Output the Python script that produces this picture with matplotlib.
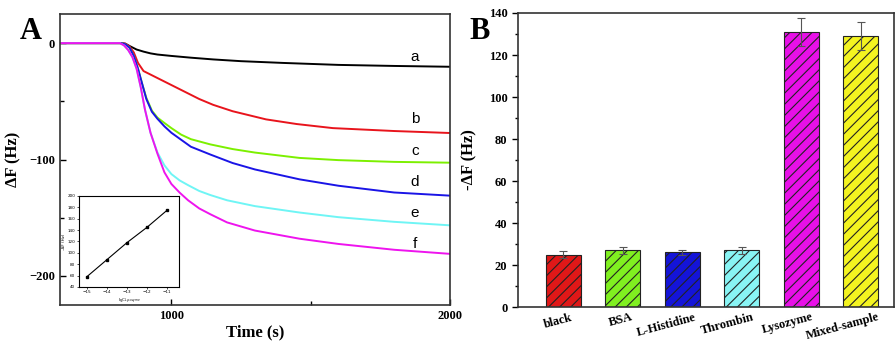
import numpy as np
import matplotlib.pyplot as plt
import matplotlib.transforms as mtransforms
from matplotlib.ticker import MultipleLocator

# ---- panel A: frequency shift curves ----
t_a = [600, 820, 835, 850, 875, 900, 925, 950, 1000, 1070, 1150, 1250, 1400, 1600, 1800, 2000]
df_a = [0, 0, -0.5, -2.5, -5.5, -7.3, -8.8, -9.8, -11, -12.5, -14, -15.5, -17, -18.7, -19.6, -20.3]

t_b = [600, 820, 835, 850, 865, 880, 900, 950, 1000, 1050, 1100, 1150, 1220, 1340, 1450, 1580, 1800, 2000]
df_b = [0, 0, -0.5, -3, -8, -17, -24, -30, -36, -42, -48, -53, -58.5, -65.5, -69.5, -73, -75.5, -77.2]

t_cd = [600, 820, 835, 850, 865, 880, 895, 910, 930, 950, 975, 1000, 1035, 1070, 1140,
        1220, 1300, 1460, 1600, 1800, 2000]
df_c = [0, 0, -1, -4, -11, -22, -35, -47, -58, -64, -68.6, -73, -78.6, -82.5, -87,
        -91, -94, -98.6, -100.5, -102, -102.7]
df_d = [0, 0, -1, -4, -11, -22, -35, -48, -59, -65, -71.5, -77, -83, -89, -95.7,
        -103, -108.5, -117, -122.5, -128.3, -131]

t_ef = [600, 815, 830, 845, 860, 875, 890, 905, 925, 950, 975, 1000, 1030, 1060, 1100,
        1140, 1200, 1300, 1460, 1600, 1800, 2000]
df_e = [0, 0, -2, -6, -12, -22, -38, -57, -77, -94, -105, -112.5, -118, -122, -127,
        -130.5, -135, -140, -145.5, -149.5, -153.5, -156.5]
df_f = [0, 0, -2, -6, -12, -22, -38, -57, -77, -95, -111, -121, -128.5, -135, -142,
        -147, -154, -161, -168, -172.5, -177.5, -181]

curve_labels = ["a", "b", "c", "d", "e", "f"]
curve_colors = ["black", "#e8141c", "#7cf000", "#1a14e6", "#6ff5f5", "#ee14ee"]
label_y = [-12, -65, -93, -119.5, -145.5, -172.6]

# inset calibration
inset_lgc = [-15, -14, -13, -12, -11]
inset_df = [58, 88, 118, 145, 175]

# ---- panel B: selectivity ----
samples = ["black", "BSA", "L-Histidine", "Thrombin", "Lysozyme", "Mixed-sample"]
response = [25, 27, 26, 27, 131, 129]
response_err = [1.5, 1.5, 1.3, 1.8, 6.5, 6.5]
bar_colors = ["#e01818", "#80f020", "#1414d8", "#88f4f4", "#e810e8", "#f4f420"]

serif = "Liberation Serif"


def main():
    fig = plt.figure(figsize=(8.96, 3.42), dpi=100)

    # --- A ---
    ax = fig.add_axes([0.067, 0.108, 0.435, 0.851])
    series = [(t_a, df_a), (t_b, df_b), (t_cd, df_c), (t_cd, df_d), (t_ef, df_e), (t_ef, df_f)]
    for (t, y), c in zip(series, curve_colors):
        ax.plot(t, y, color=c, linewidth=1.4)
    for lab, y in zip(curve_labels, label_y):
        ax.text(1875, y, lab, fontsize=11, family="Liberation Sans", ha="center", va="center")
    ax.set_xlim(600, 2000)
    ax.set_ylim(-225, 25)
    ax.set_xticks([1000, 2000])
    ax.xaxis.set_minor_locator(MultipleLocator(500))
    ax.set_yticks([0, -100, -200])
    ax.yaxis.set_minor_locator(MultipleLocator(50))
    ax.tick_params(which="both", direction="in", width=1)
    ax.tick_params(which="major", length=4)
    ax.tick_params(which="minor", length=3)
    for lbl in ax.get_xticklabels() + ax.get_yticklabels():
        lbl.set_family(serif)
        lbl.set_fontweight("bold")
        lbl.set_fontsize(9)
    ax.set_xlabel("Time (s)", family=serif, fontweight="bold", fontsize=12, labelpad=2)
    ax.set_ylabel("ΔF (Hz)", family=serif, fontweight="bold", fontsize=12, labelpad=6)
    for s in ax.spines.values():
        s.set_linewidth(1.2)
        s.set_color("#333333")
    fig.text(0.022, 0.885, "A", family=serif, fontweight="bold", fontsize=22)

    # inset
    axi = fig.add_axes([0.088, 0.161, 0.112, 0.266])
    axi.plot(inset_lgc, inset_df, color="black", linewidth=0.8, marker="s", markersize=1.5)
    axi.set_xlim(-15.4, -10.4)
    axi.set_ylim(40, 200)
    axi.set_xticks(inset_lgc)
    axi.set_yticks(range(40, 201, 20))
    axi.tick_params(labelsize=3, length=1.5, width=0.5, pad=1)
    axi.set_xlabel("lgC$_{Lysozyme}$", fontsize=3, labelpad=1)
    axi.set_ylabel("-ΔF (Hz)", fontsize=3, labelpad=1)
    for s in axi.spines.values():
        s.set_linewidth(0.8)

    # --- B ---
    bx = fig.add_axes([0.578, 0.102, 0.42, 0.86])
    x = np.arange(len(samples))
    bx.bar(x, response, width=0.59, color=bar_colors, edgecolor="#222222",
           linewidth=0.8, hatch="///")
    bx.errorbar(x, response, yerr=response_err, fmt="none", ecolor="#555555",
                elinewidth=0.8, capsize=3, capthick=0.8)
    bx.set_xlim(-0.76, 5.56)
    bx.set_ylim(0, 140)
    bx.set_yticks(range(0, 141, 20))
    bx.yaxis.set_minor_locator(MultipleLocator(10))
    bx.set_xticks(x)
    bx.set_xticklabels(samples, rotation=15)
    bx.tick_params(axis="x", length=0, pad=3)
    bx.tick_params(axis="y", which="both", direction="out", width=1)
    bx.tick_params(axis="y", which="major", length=4)
    bx.tick_params(axis="y", which="minor", length=2.5)
    # labels sit a little left of their bars, as in the original
    offsets_px = [-5, -2, -16, -14, -14, -18]
    for lbl, dx in zip(bx.get_xticklabels(), offsets_px):
        shift = mtransforms.ScaledTranslation(dx / 100, 0, fig.dpi_scale_trans)
        lbl.set_transform(lbl.get_transform() + shift)
    for lbl in bx.get_xticklabels() + bx.get_yticklabels():
        lbl.set_family(serif)
        lbl.set_fontweight("bold")
        lbl.set_fontsize(9)
    bx.set_ylabel("-ΔF (Hz)", family=serif, fontweight="bold", fontsize=12, labelpad=8)
    for s in bx.spines.values():
        s.set_linewidth(1.2)
        s.set_color("#333333")
    fig.text(0.524, 0.885, "B", family=serif, fontweight="bold", fontsize=22)

    fig.savefig("out.png", dpi=100)


if __name__ == "__main__":
    plt.rcParams["hatch.linewidth"] = 0.8
    main()
